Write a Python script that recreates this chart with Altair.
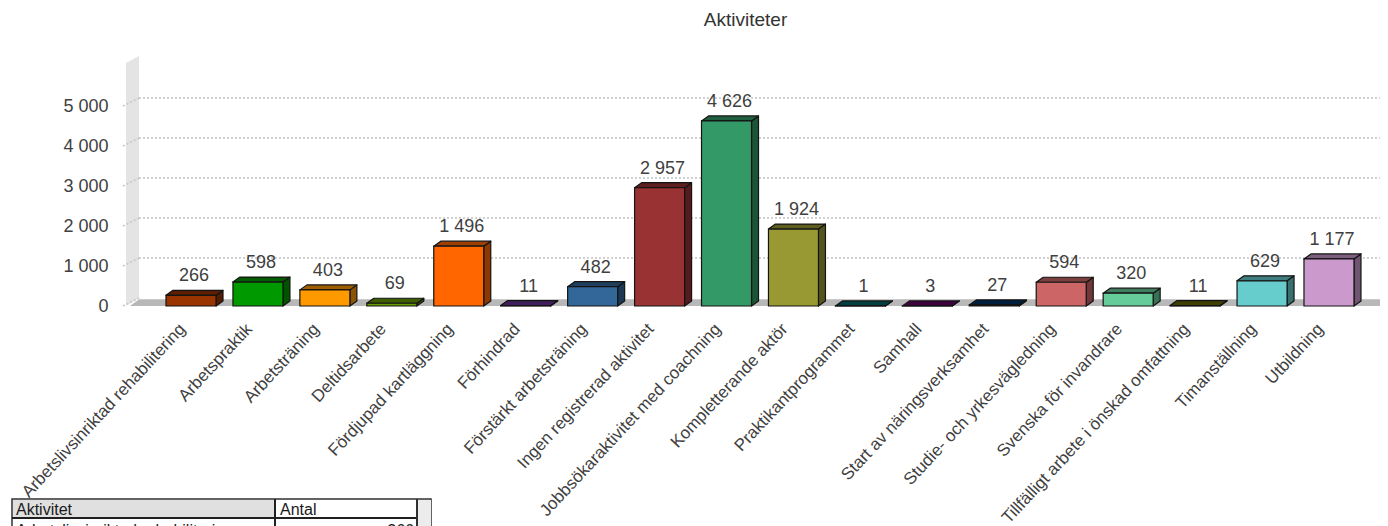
import altair as alt
import pandas as pd

categories = ["Arbetslivsinriktad rehabilitering", "Arbetspraktik", "Arbetsträning", "Deltidsarbete",
              "Fördjupad kartläggning", "Förhindrad", "Förstärkt arbetsträning", "Ingen registrerad aktivitet",
              "Jobbsökaraktivitet med coachning", "Kompletterande aktör", "Praktikantprogrammet", "Samhall",
              "Start av näringsverksamhet", "Studie- och yrkesvägledning", "Svenska för invandrare",
              "Tillfälligt arbete i önskad omfattning", "Timanställning", "Utbildning"]
values = [266, 598, 403, 69, 1496, 11, 482, 2957, 4626, 1924, 1, 3, 27, 594, 320, 11, 629, 1177]
front = ["#993300", "#009900", "#FF9900", "#669900", "#FF6600", "#663399", "#336699", "#993333", "#339966",
         "#999933", "#006666", "#660066", "#003366", "#CC6666", "#66CC99", "#666600", "#66CCCC", "#CC99CC"]
ticks = [0, 1000, 2000, 3000, 4000, 5000]

FONT = "Liberation Sans"
TXT = "#404040"
PX = 66.94          # pixels per category
UNIT = 0.04         # pixels per count
LEFT, TOP, W, H = 120, 56, 1260, 250
def ix(px):
    return (px - 191) / PX
XDOM = [ix(LEFT), ix(LEFT + W)]
YDOM = [0, H / UNIT]
HALF = 25 / PX; DX = 7 / PX; DY = 5 / UNIT
BACK = 200

def darker(h, f):
    r, g, b = [int(h[i:i + 2], 16) for i in (1, 3, 5)]
    return "#%02x%02x%02x" % (int(r * f), int(g * f), int(b * f))

fr, top, side = [], [], []
for i, (c, v, col) in enumerate(zip(categories, values, front)):
    x0, x1 = i - HALF, i + HALF
    fr.append(dict(x=x0, x2=x1, y=v, y0=0, c=col))
    for x, y, y2 in [(x0, v, v), (x0 + DX, v + DY, v), (x1, v + DY, v), (x1 + DX, v + DY, v + DY)]:
        top.append(dict(id=i, x=x, y=y, y2=y2, c=darker(col, .62)))
    for x, y, y2 in [(x1, v, 0), (x1 + DX, v + DY, DY)]:
        side.append(dict(id=i, x=x, y=y, y2=y2, c=darker(col, .55)))

xs = alt.Scale(domain=XDOM, nice=False, zero=False)
ys = alt.Scale(domain=YDOM, nice=False, zero=False)
names_js = "[" + ",".join('"%s"' % n for n in categories) + "]"
xax = alt.Axis(values=list(range(len(categories))), labelExpr=names_js + "[datum.value]", title=None, domain=False,
               ticks=False, grid=False, labelAngle=-47, labelAlign="right", labelBaseline="middle", labelPadding=20,
               labelFont=FONT, labelFontSize=17, labelColor=TXT, labelOverlap=False, labelBound=False,
               labelFlush=False, labelLimit=500, labelOffset=-9)
yax = alt.Axis(values=ticks, labelExpr="replace(format(datum.value, ','), ',', ' ')", title=None, domain=False,
               ticks=False, grid=False, labelPadding=12, labelFont=FONT, labelFontSize=18, labelColor=TXT)
X = alt.X("x:Q", scale=xs, axis=xax)
Y = alt.Y("y:Q", scale=ys, axis=yax, stack=None)

wall = alt.Chart(pd.DataFrame({"x": [ix(126), ix(139)], "y": [(306 - 63) / UNIT, (306 - 56) / UNIT], "y2": [0, BACK]})
                 ).mark_area(orient="vertical", color="#e4e4e4").encode(X, Y, y2="y2:Q")
floor = alt.Chart(pd.DataFrame({"x": [ix(130), ix(139), ix(LEFT + W)], "y": [0, 170, 170], "y2": [0, 0, 0]})
                  ).mark_area(orient="vertical", color="#b8b8b8").encode(X, Y, y2="y2:Q")
grid = alt.Chart(pd.DataFrame({"x": [ix(139)] * 5, "x2": [XDOM[1]] * 5, "y": [t + BACK for t in ticks[1:]]})
                 ).mark_rule(color="#c4c4c4", strokeWidth=1.5, strokeDash=[2, 2]).encode(X, x2="x2:Q", y=Y)
slant_rows = []
for t in ticks:
    slant_rows += [dict(t=t, x=ix(123), y=t), dict(t=t, x=ix(139), y=t + BACK)]
slant = alt.Chart(pd.DataFrame(slant_rows)).mark_line(color="#c4c4c4", strokeWidth=1.5, strokeDash=[2, 2]).encode(
    X, Y, detail="t:N")

S = dict(stroke="#141414", strokeWidth=1.2, strokeJoin="round", orient="vertical")
side_l = alt.Chart(pd.DataFrame(side)).mark_area(**S).encode(X, Y, y2="y2:Q", fill=alt.Fill("c:N", scale=None), detail="id:N")
top_l = alt.Chart(pd.DataFrame(top)).mark_area(**S).encode(X, Y, y2="y2:Q", fill=alt.Fill("c:N", scale=None), detail="id:N")
front_l = alt.Chart(pd.DataFrame(fr)).mark_rect(stroke="#141414", strokeWidth=1.2).encode(
    X, x2="x2:Q", y=Y, y2="y0:Q", fill=alt.Fill("c:N", scale=None))

lab = pd.DataFrame({"x": [i + 3 / PX for i in range(len(values))], "y": values,
                    "t": [f"{v:,}".replace(",", " ") for v in values]})
labels = alt.Chart(lab).mark_text(font=FONT, fontSize=18, color=TXT, baseline="middle", dy=-19).encode(X, Y, text="t:N")

one = alt.Data(values=[{}])
def box(x0, x1, y0, y1, **kw):
    return alt.Chart(one).mark_rect(**kw).encode(
        x=alt.value(x0 - LEFT), x2=alt.value(x1 - LEFT), y=alt.value(y0 - TOP), y2=alt.value(y1 - TOP))
def txt(x, y, s, **kw):
    return alt.Chart(one).mark_text(font=FONT, fontSize=16, color="#1a1a1a", baseline="middle", **kw).encode(
        x=alt.value(x - LEFT), y=alt.value(y - TOP), text=alt.value(s))

table = [
    box(12, 431, 499, 560, fill="white", stroke="#303030", strokeWidth=1.5),
    box(13, 275, 500, 518, fill="#e0e0e0"),
    box(12, 431, 517, 519, fill="#202020"),
    box(274, 276, 499, 560, fill="#202020"),
    box(416, 418, 499, 560, fill="#303030"),
    box(418, 431, 500, 560, fill="#ececec"),
    txt(16, 510, "Aktivitet", align="left"),
    txt(280, 510, "Antal", align="left"),
    txt(16, 531, "Arbetslivsinriktad rehabilitering", align="left"),
    txt(414, 531, "266", align="right"),
]

chart = alt.layer(wall, floor, grid, slant, side_l, top_l, front_l, labels, *table).properties(
    width=W, height=H,
    title=alt.TitleParams("Aktiviteter", font=FONT, fontSize=19, fontWeight="normal", color="#333333",
                          anchor="middle", dx=-4.5, offset=26),
    autosize=alt.AutoSizeParams(type="none"),
    padding={"left": LEFT - 8, "top": TOP - 8, "right": 0, "bottom": 220},
).configure_view(stroke=None)

chart.save("out.html", embed_options={"renderer": "svg", "actions": False})
